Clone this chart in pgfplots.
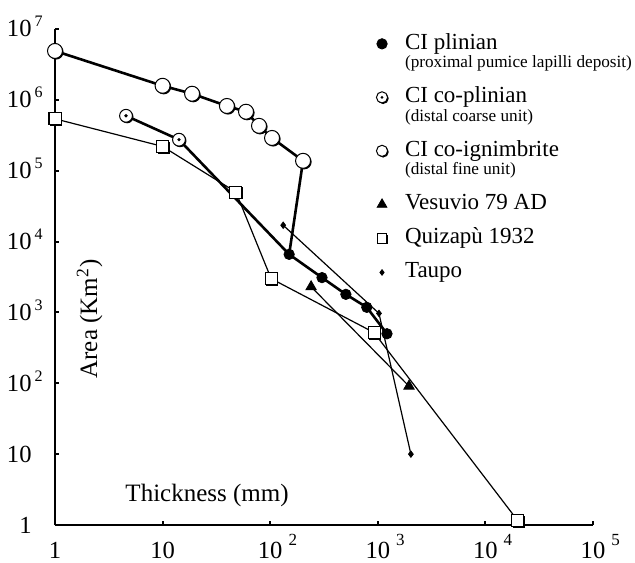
\documentclass[border=0pt]{standalone}
\usepackage{pgfplots}
\pgfplotsset{compat=1.18}
\usepackage{fontspec}
\setmainfont{Liberation Serif}

\pgfdeclareplotmark{scirc}{%
  \pgfpathcircle{\pgfpoint{0.55pt}{-0.55pt}}{\pgfplotmarksize}%
  \pgfsetfillcolor{black}\pgfusepathqfill
  \pgfpathcircle{\pgfpointorigin}{\pgfplotmarksize}%
  \pgfsetfillcolor{white}\pgfusepathqfillstroke}
\pgfdeclareplotmark{scdot}{%
  \pgfpathcircle{\pgfpoint{0.55pt}{-0.55pt}}{\pgfplotmarksize}%
  \pgfsetfillcolor{black}\pgfusepathqfill
  \pgfpathcircle{\pgfpointorigin}{\pgfplotmarksize}%
  \pgfsetfillcolor{white}\pgfusepathqfillstroke
  \pgfpathcircle{\pgfpointorigin}{0.28\pgfplotmarksize}%
  \pgfsetfillcolor{black}\pgfusepathqfill}
\pgfdeclareplotmark{ssq}{%
  \pgfpathrectangle{\pgfpoint{-\pgfplotmarksize+0.55pt}{-\pgfplotmarksize-0.55pt}}{\pgfpoint{2\pgfplotmarksize}{2\pgfplotmarksize}}%
  \pgfsetfillcolor{black}\pgfusepathqfill
  \pgfpathrectangle{\pgfpoint{-\pgfplotmarksize}{-\pgfplotmarksize}}{\pgfpoint{2\pgfplotmarksize}{2\pgfplotmarksize}}%
  \pgfsetfillcolor{white}\pgfusepathqfillstroke}

\newcommand{\xe}[1]{10\rlap{\hspace{3pt}\raisebox{6.5pt}{\fontsize{8.5}{9}\selectfont #1}}}
\newcommand{\ye}[1]{10\rlap{\hspace{1.5pt}\raisebox{5pt}{\fontsize{8}{9}\selectfont #1}}}
\newcommand{\mainf}{\fontsize{11.5}{13}\selectfont\rule[-3.25pt]{0pt}{17pt}}
\newcommand{\subf}{\fontsize{8.6}{9}\selectfont\rule[-3.75pt]{0pt}{9.75pt}}

\begin{document}
\begin{tikzpicture}
\useasboundingbox (-27.5pt,-18.5pt) rectangle (290pt,262.5pt);
\begin{axis}[
  xmode=log, ymode=log,
  scale only axis, width=269pt, height=248pt,
  xmin=1, xmax=100000, ymin=1, ymax=10000000,
  axis x line*=bottom, axis y line*=left,
  axis line style={line width=1.4pt},
  xminorticks=false, yminorticks=false,
  xtick={1,10,100,1000,10000,100000},
  xticklabels={1,10,{\xe{2}},{\xe{3}},{\xe{4}},{\xe{5}}},
  ytick={1,10,100,1000,10000,100000,1000000,10000000},
  yticklabels={1,10,{\ye{2}},{\ye{3}},{\ye{4}},{\ye{5}},{\ye{6}},{\ye{7}}},
  tick align=inside,
  major tick length=2.2pt,
  every tick/.style={black, line width=1pt},
  tick label style={font=\fontsize{12.3}{14}\selectfont},
  xticklabel style={anchor=base, inner sep=0pt, yshift=-16.5pt},
  yticklabel style={anchor=base east, inner sep=0pt, xshift=-11.5pt, yshift=-4pt},
  clip=false,
  legend image code/.code={%
    \path[draw=none, fill=none] (-4pt,-3pt) rectangle (4pt,9pt);
    \draw[#1] plot[only marks] coordinates {(0pt,2.6pt)};},
  legend style={draw=none, fill=none, inner sep=0pt, outer sep=0pt,
    row sep=0pt, column sep=7.5pt,
    nodes={inner sep=0pt, text depth=},
    cells={anchor=base west},
    at={(0.593,1.015)}, anchor=north west},
]
% thin lines
\addplot[black, line width=0.6pt, forget plot] coordinates {(1,540000) (10,220000) (48,50000) (102,3000) (922,520) (20000,1.15)};
\addplot[black, line width=0.6pt, forget plot] coordinates {(240,2300) (1950,91)};
\addplot[black, line width=0.6pt, forget plot] coordinates {(132,17000) (1025,970) (2030,10)};
% thick lines
\addplot[black, line width=1.3pt, line join=round, forget plot] coordinates {(1,4900000) (10,1580000) (18.8,1220000) (39.6,820000) (59.6,680000) (78.7,430000) (104,290000) (202,138000) (150,6600)};
\addplot[black, line width=1.3pt, line join=round, forget plot] coordinates {(4.57,596000) (14.2,274000) (150,6600)};
\addplot[black, line width=1.3pt, line join=round, forget plot] coordinates {(150,6600) (303,3100) (505,1800) (790,1180) (1217,500)};
% marks
\addplot[only marks, mark=ssq, mark size=3pt, mark options={black, line width=0.5pt}, forget plot] coordinates {(1,540000) (10,220000) (48,50000) (102,3000) (922,520) (20000,1.15)};
\addplot[only marks, mark=triangle*, mark size=3pt, mark options={black, fill=black}, forget plot] coordinates {(240,2300) (1950,91)};
\addplot[only marks, mark=diamond*, mark size=1.6pt, mark options={black, fill=black}, forget plot] coordinates {(132,17000) (1025,970) (2030,10)};
\addplot[only marks, mark=scirc, mark size=3.75pt, mark options={black, line width=0.5pt}, forget plot] coordinates {(1,4900000) (10,1580000) (18.8,1220000) (39.6,820000) (59.6,680000) (78.7,430000) (104,290000) (202,138000)};
\addplot[only marks, mark=scdot, mark size=3.2pt, mark options={black, line width=0.5pt}, forget plot] coordinates {(4.57,596000) (14.2,274000)};
\addplot[only marks, mark=*, mark size=2.6pt, mark options={black, fill=black}, forget plot] coordinates {(150,6600) (303,3100) (505,1800) (790,1180) (1217,500)};

% legend
\addlegendimage{mark=*, mark size=2.6pt, black, mark options={fill=black}}
\addlegendentry{\mainf CI plinian}
\addlegendimage{empty legend}
\addlegendentry{\subf (proximal pumice lapilli deposit)}
\addlegendimage{mark=scdot, mark size=2.8pt, black, line width=0.5pt}
\addlegendentry{\mainf CI co-plinian}
\addlegendimage{empty legend}
\addlegendentry{\subf (distal coarse unit)}
\addlegendimage{mark=scirc, mark size=2.8pt, black, line width=0.5pt}
\addlegendentry{\mainf CI co-ignimbrite}
\addlegendimage{empty legend}
\addlegendentry{\subf (distal fine unit)}
\addlegendimage{mark=triangle*, mark size=2.8pt, black, mark options={fill=black}}
\addlegendentry{\mainf Vesuvio 79 AD}
\addlegendimage{mark=ssq, mark size=2.4pt, black, line width=0.5pt}
\addlegendentry{\mainf Quizapù 1932}
\addlegendimage{mark=diamond*, mark size=1.4pt, black, mark options={fill=black}}
\addlegendentry{\mainf Taupo}

\node[anchor=base, font=\fontsize{12.5}{14}\selectfont] at (axis cs:25.9,2.18) {Thickness (mm)};
\node[rotate=90, anchor=base, font=\fontsize{12.5}{14}\selectfont] at (axis cs:2.46,807) {Area (Km\textsuperscript{2})};
\end{axis}
\end{tikzpicture}
\end{document}
